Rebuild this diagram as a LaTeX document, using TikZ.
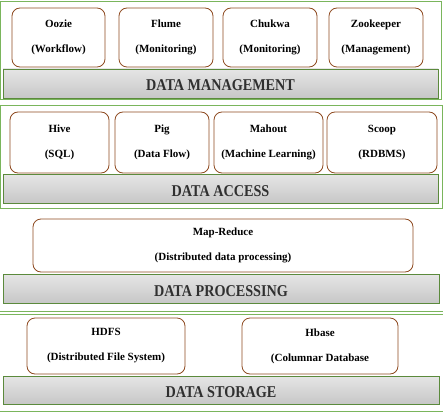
\documentclass[tikz,border=0pt]{standalone}
\usepackage{fontspec}
\setmainfont{Liberation Serif}

\definecolor{framegreen}{HTML}{7AB55C}
\definecolor{bargreen}{HTML}{5B8A3C}
\definecolor{boxbrown}{HTML}{8E4A20}
\definecolor{titlegray}{HTML}{303030}

\newcommand\layertitle[1]{\scalebox{0.86}[1]{#1}}

\tikzset{
toolbox/.style={draw=boxbrown, line width=0.8pt, rounded corners=8pt, fill=white, align=center, inner sep=0pt, font=\fontsize{11}{25}\selectfont\bfseries},
layerbar/.style={draw=bargreen, line width=0.8pt, top color=black!10, bottom color=black!22, minimum width=435pt, minimum height=29pt, inner sep=0pt, text height=15pt, text depth=0pt, text=titlegray, font=\fontsize{16.5}{17}\selectfont\bfseries}
}

\begin{document}
\begin{tikzpicture}[x=1pt,y=-1pt]

\useasboundingbox (0,0) rectangle (443,414);

\draw[framegreen, line width=1pt] (0.5,2) rectangle (441,100);
\draw[framegreen, line width=1pt] (0.5,106) rectangle (442,208);

\foreach \y in {311,314,411}
{
\draw[framegreen, line width=1pt] (0,\y)--(443,\y);
}

\node[toolbox, minimum width=93pt, minimum height=59pt] (oozie) at (58.5,37.5) {Oozie\\(Workflow)};
\node[toolbox, minimum width=94pt, minimum height=59pt] (flume) at (166,37.5) {Flume\\(Monitoring)};
\node[toolbox, minimum width=94pt, minimum height=59pt] (chukwa) at (270,37.5) {Chukwa\\(Monitoring)};
\node[toolbox, minimum width=94pt, minimum height=59pt] (zookeeper) at (376,37.5) {Zookeeper\\(Management)};
\node[layerbar] (management) at (220.5,83.5) {\layertitle{DATA MANAGEMENT}};

\node[toolbox, minimum width=99pt, minimum height=61pt] (hive) at (59.5,142.5) {Hive\\(SQL)};
\node[toolbox, minimum width=94pt, minimum height=61pt] (pig) at (162,142.5) {Pig\\(Data Flow)};
\node[toolbox, minimum width=109pt, minimum height=61pt] (mahout) at (268.5,142.5) {Mahout\\(Machine Learning)};
\node[toolbox, minimum width=110pt, minimum height=61pt] (scoop) at (382,142.5) {Scoop\\(RDBMS)};
\node[layerbar] (access) at (220.5,188.5) {\layertitle{DATA ACCESS}};

\node[toolbox, minimum width=380pt, minimum height=53pt] (mapreduce) at (223,245.5) {Map-Reduce\\(Distributed data processing)};
\node[layerbar, minimum width=436pt] (processing) at (221,288.5) {\layertitle{DATA PROCESSING}};

\node[toolbox, minimum width=158pt, minimum height=56pt] (hdfs) at (106,346) {HDFS\\(Distributed File System)};
\node[toolbox, minimum width=156pt, minimum height=56pt] (hbase) at (320,346) {Hbase\\(Columnar Database};
\node[layerbar, minimum width=436pt, minimum height=28pt] (storage) at (221,390) {\layertitle{DATA STORAGE}};

\end{tikzpicture}
\end{document}
